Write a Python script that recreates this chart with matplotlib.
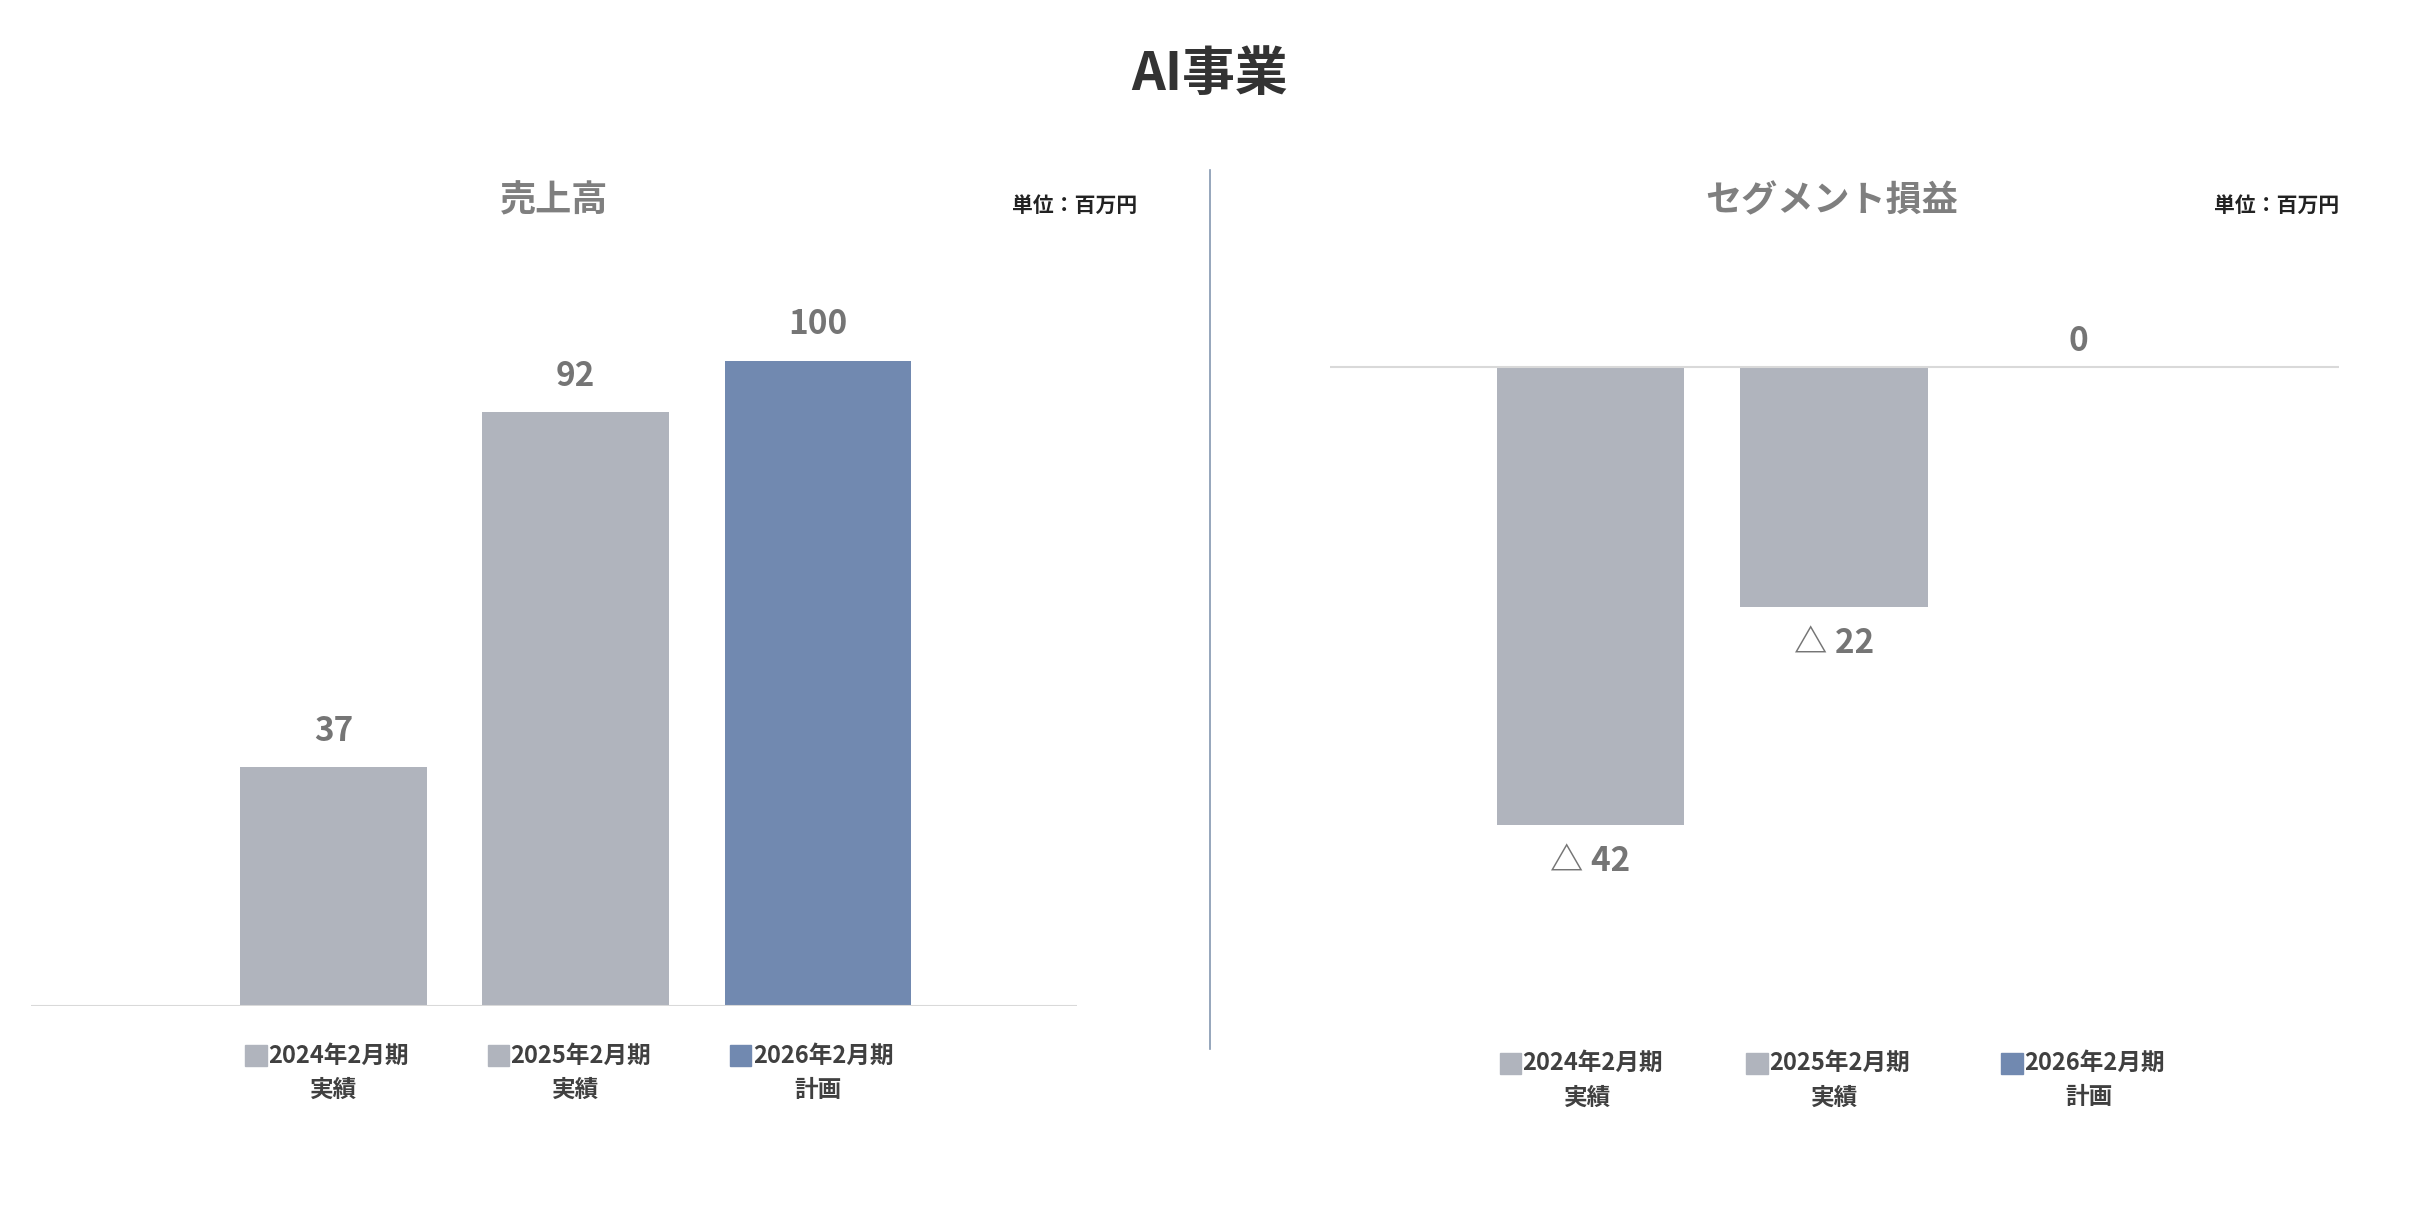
import matplotlib
matplotlib.use("Agg")
import matplotlib.pyplot as plt
from matplotlib.patches import Rectangle

plt.rcParams['font.family'] = ['Noto Sans CJK JP', 'DejaVu Sans']

periods = ["2024年2月期", "2025年2月期", "2026年2月期"]
kinds = ["実績", "実績", "計画"]
sales = [37, 92, 100]
profit = [-42, -22, 0]
colors = ["#B0B4BD", "#B0B4BD", "#7189B0"]

W, H = 1568, 784
fig = plt.figure(figsize=(24.19, 12.10), dpi=100)

def ax_rect(x0, x1, y0, y1):
    return [x0 / W, 1 - y1 / H, (x1 - x0) / W, (y1 - y0) / H]

lab_col = "#757575"

ax1 = fig.add_axes(ax_rect(20, 698, 150, 652))
ax1.bar(range(3), sales, width=0.77, color=colors)
ax1.set_xlim(-1.25, 3.07)
ax1.set_ylim(0, 120)
for i, v in enumerate(sales):
    ax1.text(i, v + 3, f"{v}", ha="center", va="bottom", fontsize=24, fontweight="bold", color=lab_col)
ax1.axhline(0, color="#D9D9D9", lw=1.5)

ax2 = fig.add_axes(ax_rect(862, 1516, 150, 652))
ax2.bar(range(3), profit, width=0.77, color=colors)
ax2.set_xlim(-1.07, 3.07)
ax2.set_ylim(-58.6, 12.4)
ax2.axhline(0, color="#D9D9D9", lw=1.5)
for i, v in enumerate(profit):
    if v < 0:
        ax2.text(i, v - 1.8, f"△ {abs(v)}", ha="center", va="top", fontsize=24, fontweight="bold", color=lab_col)
    else:
        ax2.text(i, v + 0.8, f"{v}", ha="center", va="bottom", fontsize=24, fontweight="bold", color=lab_col)

for ax in (ax1, ax2):
    ax.axis("off")

fig.text(784 / W, 1 - 48 / H, "AI事業", ha="center", va="center", fontsize=38, fontweight="bold", color="#333333")
fig.text(359 / W, 1 - 130 / H, "売上高", ha="center", va="center", fontsize=26, fontweight="bold", color="#7F7F7F")
fig.text(1187 / W, 1 - 130 / H, "セグメント損益", ha="center", va="center", fontsize=26, fontweight="bold", color="#7F7F7F")
for xr in (737, 1516):
    fig.text(xr / W, 1 - 133 / H, "単位：百万円", ha="right", va="center", fontsize=15, fontweight="bold", color="#222222")

fig.add_artist(plt.Line2D([784 / W, 784 / W], [1 - 110 / H, 1 - 680 / H], color="#8497B0", lw=1.2))

def legend(centers, y):
    for c, p, k, col in zip(centers, periods, kinds, colors):
        fig.add_artist(Rectangle(((c - 57) / W, 1 - (y + 7) / H), 14 / W, 14 / H, color=col, transform=fig.transFigure))
        fig.text((c - 42) / W, 1 - y / H, p, ha="left", va="center", fontsize=17, fontweight="bold", color="#404040")
        fig.text(c / W, 1 - (y + 22) / H, k, ha="center", va="center", fontsize=17, fontweight="bold", color="#404040")

legend([216, 373, 530], 684)
legend([1029, 1189, 1354], 689)

fig.savefig("out.png", dpi=100)
